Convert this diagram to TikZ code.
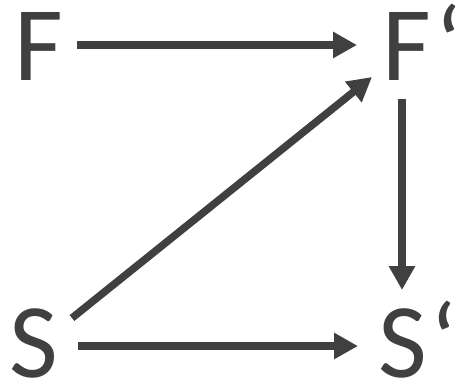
\documentclass[tikz,border=0pt]{standalone}
\usepackage{fontspec}
\setmainfont{Carlito}
\usetikzlibrary{arrows.meta}
\definecolor{ink}{HTML}{404040}
\begin{document}
\begin{tikzpicture}[x=1pt,y=-1pt,
  lbl/.style={anchor=base west,inner sep=0pt,text=ink,font=\fontsize{106}{106}\selectfont},
  arr/.style={draw=ink,line width=7.5pt,-{Triangle[length=24pt,width=25pt]}}]
\useasboundingbox (0,0) rectangle (457,384);
\node[lbl] (F) at (14,80) {F};
\node[lbl] (Fp) at (382,80) {F\kern5pt‘};
\node[lbl] (S) at (9,377) {S};
\node[lbl] (Sp) at (378,377) {S\kern4pt‘};
\draw[arr] ([shift={(63,-35)}]F.base west) -- ([shift={(-25,-35)}]Fp.base west);
\draw[arr] ([shift={(20,19)}]Fp.base west) -- ([shift={(24,-87)}]Sp.base west);
\draw[arr] ([shift={(63,-59)}]S.base west) -- ([shift={(-10,-3)}]Fp.base west);
\draw[arr] ([shift={(69,-31)}]S.base west) -- ([shift={(-20,-31)}]Sp.base west);
\end{tikzpicture}
\end{document}
